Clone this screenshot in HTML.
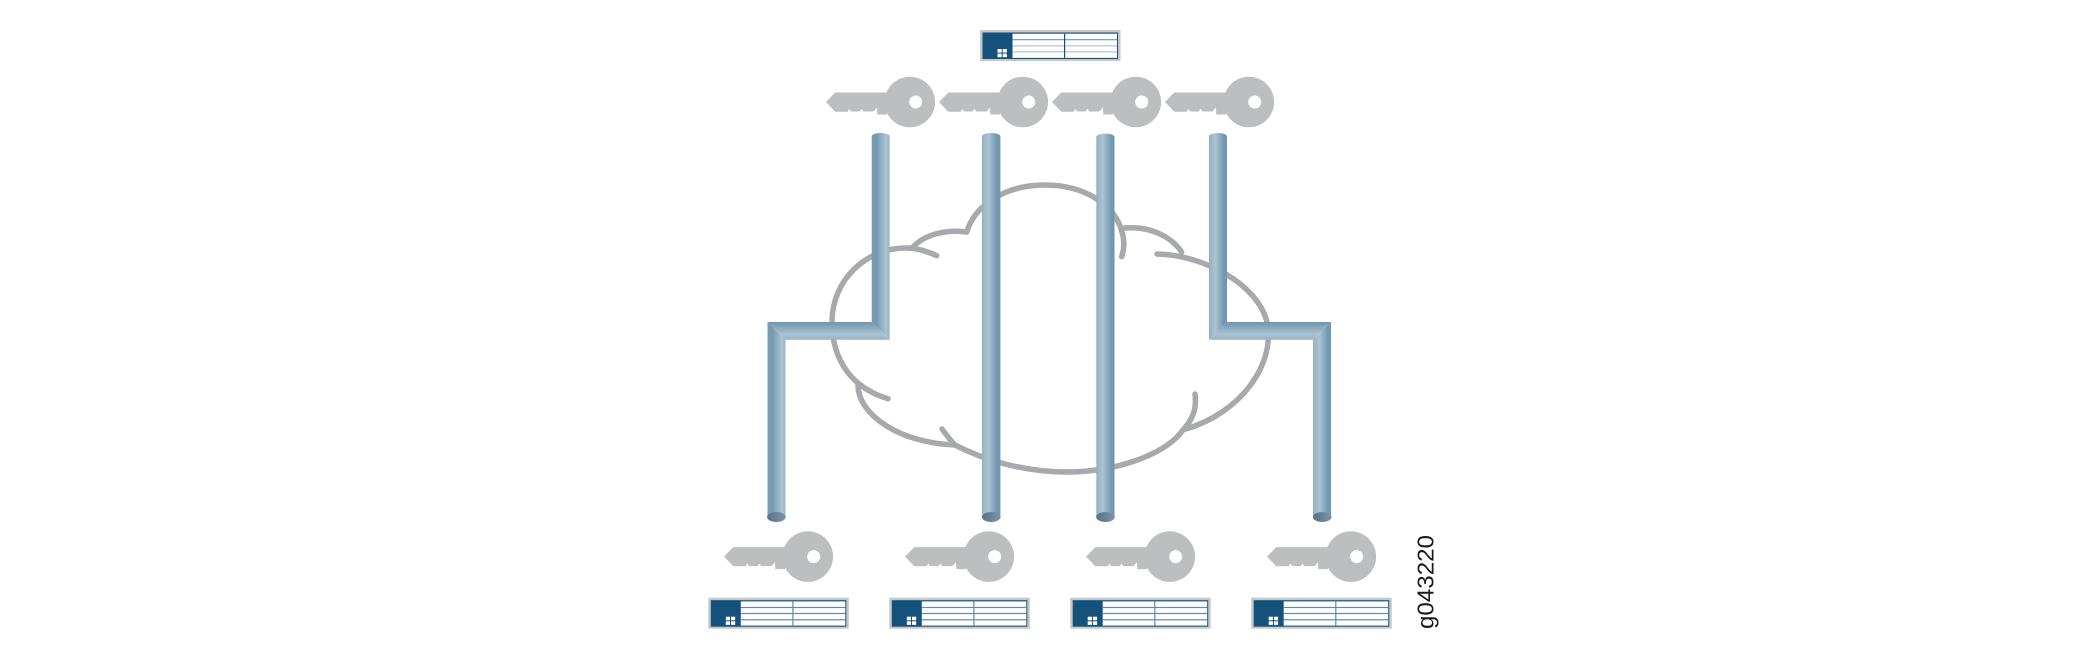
<!DOCTYPE html>
<html>
<head>
<meta charset="utf-8">
<style>
html,body{margin:0;padding:0;background:#fff;}
svg{display:block;}
</style>
</head>
<body>
<svg width="2100" height="660" viewBox="0 0 2100 660" xmlns="http://www.w3.org/2000/svg">
<defs>
<linearGradient id="dl" x1="0" x2="1" y1="0" y2="0"><stop offset="0" stop-color="#7a9cb3"/><stop offset="0.25" stop-color="#7299b2"/><stop offset="0.8" stop-color="#abc2d1"/><stop offset="1" stop-color="#9bb5c7"/></linearGradient>
<linearGradient id="ld" x1="0" x2="1" y1="0" y2="0"><stop offset="0" stop-color="#93b0c3"/><stop offset="0.35" stop-color="#adc3d2"/><stop offset="0.8" stop-color="#7399b2"/><stop offset="1" stop-color="#6f96af"/></linearGradient>
<linearGradient id="hz" x1="0" x2="0" y1="0" y2="1"><stop offset="0" stop-color="#6f96af"/><stop offset="0.7" stop-color="#abc2d1"/><stop offset="1" stop-color="#96b1c4"/></linearGradient>
<linearGradient id="cap" x1="0" x2="1" y1="0" y2="0"><stop offset="0" stop-color="#587189"/><stop offset="1" stop-color="#7d93a8"/></linearGradient>
</defs>

<!-- cloud -->
<g fill="none" stroke="#a7a9ac" stroke-width="5.5" stroke-linecap="round" stroke-linejoin="round">
<path d="M936.7,255.7 C926,251 917,248 906,248 C866,248 832,280 832,322 C832,360 852,388 888,398.7"/>
<path d="M913,247 C924,235 945,229 966.7,232"/>
<path d="M966.7,232 C975,205 1005,185 1045,185 C1085,185 1115,205 1122,232 C1125,242 1124,250 1121.7,256.7"/>
<path d="M1125,228 C1148,226 1170,235 1181.7,252"/>
<path d="M1157,254 C1205,255 1258,285 1267,322 C1276,365 1240,413 1186,429"/>
<path d="M1195,394 C1197,410 1192,420 1183,430 C1165,455 1115,472 1067,472 C1020,472 980,458 955,445 C950,440 945,433 942,429"/>
<path d="M858,385 C858,415 900,443 955,445"/>
</g>

<!-- pipes -->
<path d="M871.7,136.5 A9,3.5 0 0 1 889.7,136.5 V339.7 L871.7,322 Z" fill="url(#dl)"/>
<path d="M767.5,322 H871.7 L889.7,339.7 H785.5 Z" fill="url(#hz)"/>
<path d="M767.5,322 L785.5,339.7 V517 H767.5 Z" fill="url(#dl)"/>
<ellipse cx="776.4" cy="517" rx="9.3" ry="5" fill="url(#cap)"/>

<path d="M982,136.5 A9.2,3.5 0 0 1 1000.4,136.5 V517 H982 Z" fill="url(#ld)"/>
<ellipse cx="991.3" cy="517" rx="9.3" ry="5" fill="url(#cap)"/>

<path d="M1096.3,136.5 A9.2,3.5 0 0 1 1114.5,136.5 V517 H1096.3 Z" fill="url(#ld)"/>
<ellipse cx="1105.5" cy="517" rx="9.3" ry="5" fill="url(#cap)"/>

<path d="M1209,136.5 A9,3.5 0 0 1 1227,136.5 V322 L1209,339.7 Z" fill="url(#ld)"/>
<path d="M1227,322 H1331 L1313,339.7 H1209 Z" fill="url(#hz)"/>
<path d="M1313,339.7 L1331,322 V517 H1313 Z" fill="url(#ld)"/>
<ellipse cx="1322.3" cy="517" rx="9.3" ry="5" fill="url(#cap)"/>

<!-- keys -->
<g fill="#bcbec0">
<path d="M826,102 L835.3,92.5 H887 V114.5 H877.3 L877,107.5 L873.5,111.5 H863.5 L861.5,109 L859.5,111.5 H851 L849.5,109 L847.5,111.7 H835.3 Z"/>
<circle cx="909.8" cy="102" r="25.3"/>
<path d="M939,102 L948.3,92.5 H1000 V114.5 H990.3 L990,107.5 L986.5,111.5 H976.5 L974.5,109 L972.5,111.5 H964 L962.5,109 L960.5,111.7 H948.3 Z"/>
<circle cx="1022.8" cy="102" r="25.3"/>
<path d="M1052,102 L1061.3,92.5 H1113 V114.5 H1103.3 L1103,107.5 L1099.5,111.5 H1089.5 L1087.5,109 L1085.5,111.5 H1077 L1075.5,109 L1073.5,111.7 H1061.3 Z"/>
<circle cx="1135.8" cy="102" r="25.3"/>
<path d="M1165,102 L1174.3,92.5 H1226 V114.5 H1216.3 L1216,107.5 L1212.5,111.5 H1202.5 L1200.5,109 L1198.5,111.5 H1190 L1188.5,109 L1186.5,111.7 H1174.3 Z"/>
<circle cx="1248.8" cy="102" r="25.3"/>

<path d="M724,556.6 L733.3,547.1 H785 V569.1 H775.3 L775,562.1 L771.5,566.1 H761.5 L759.5,563.6 L757.5,566.1 H749 L747.5,563.6 L745.5,566.3 H733.3 Z"/>
<circle cx="807.8" cy="556.6" r="25.3"/>
<path d="M905,556.6 L914.3,547.1 H966 V569.1 H956.3 L956,562.1 L952.5,566.1 H942.5 L940.5,563.6 L938.5,566.1 H930 L928.5,563.6 L926.5,566.3 H914.3 Z"/>
<circle cx="988.8" cy="556.6" r="25.3"/>
<path d="M1086,556.6 L1095.3,547.1 H1147 V569.1 H1137.3 L1137,562.1 L1133.5,566.1 H1123.5 L1121.5,563.6 L1119.5,566.1 H1111 L1109.5,563.6 L1107.5,566.3 H1095.3 Z"/>
<circle cx="1169.8" cy="556.6" r="25.3"/>
<path d="M1267,556.6 L1276.3,547.1 H1328 V569.1 H1318.3 L1318,562.1 L1314.5,566.1 H1304.5 L1302.5,563.6 L1300.5,566.1 H1292 L1290.5,563.6 L1288.5,566.3 H1276.3 Z"/>
<circle cx="1350.8" cy="556.6" r="25.3"/>
</g>
<g fill="#fff">
<circle cx="915.7" cy="102" r="6.5"/><circle cx="1028.7" cy="102" r="6.5"/><circle cx="1141.7" cy="102" r="6.5"/><circle cx="1254.7" cy="102" r="6.5"/>
<circle cx="813.7" cy="556.6" r="6.5"/><circle cx="994.7" cy="556.6" r="6.5"/><circle cx="1175.7" cy="556.6" r="6.5"/><circle cx="1356.7" cy="556.6" r="6.5"/>
</g>

<!-- top table -->
<g transform="translate(980,30)">
<rect width="140.5" height="31" fill="#c5c7c9"/>
<rect x="2.5" y="2.5" width="135.5" height="26.5" fill="#14527c"/>
<rect x="32.5" y="3.7" width="104.5" height="24.2" fill="#fff"/>
<rect x="32.5" y="9" width="104.5" height="1.3" fill="#7ea2ba"/>
<rect x="32.5" y="15" width="104.5" height="1.6" fill="#c0d3de"/>
<rect x="32.5" y="21" width="104.5" height="1.6" fill="#c0d3de"/>
<rect x="84" y="3.7" width="1.2" height="24.2" fill="#14527c"/>
<g fill="#fff"><rect x="17.5" y="19" width="4.2" height="3.6"/><rect x="22.7" y="19" width="4.2" height="3.6"/><rect x="17.5" y="23.6" width="4.2" height="3.6"/><rect x="22.7" y="23.6" width="4.2" height="3.6"/></g>
</g>

<!-- bottom tables -->
<g transform="translate(708.3,597.7)">
<rect width="140.5" height="31" fill="#c5c7c9"/>
<rect x="2.5" y="2.5" width="135.5" height="26.5" fill="#14527c"/>
<rect x="32.5" y="3.7" width="104.5" height="24.2" fill="#fff"/>
<g fill="#5f8aa8"><rect x="32.5" y="9.2" width="104.5" height="1.2"/><rect x="32.5" y="15.2" width="104.5" height="1.2"/><rect x="32.5" y="21.5" width="104.5" height="1.2"/><rect x="84" y="3.7" width="1.2" height="24.2"/></g>
<g fill="#fff"><rect x="17.5" y="19" width="4.2" height="3.6"/><rect x="22.7" y="19" width="4.2" height="3.6"/><rect x="17.5" y="23.6" width="4.2" height="3.6"/><rect x="22.7" y="23.6" width="4.2" height="3.6"/></g>
</g>
<g transform="translate(889.3,597.7)">
<rect width="140.5" height="31" fill="#c5c7c9"/>
<rect x="2.5" y="2.5" width="135.5" height="26.5" fill="#14527c"/>
<rect x="32.5" y="3.7" width="104.5" height="24.2" fill="#fff"/>
<g fill="#5f8aa8"><rect x="32.5" y="9.2" width="104.5" height="1.2"/><rect x="32.5" y="15.2" width="104.5" height="1.2"/><rect x="32.5" y="21.5" width="104.5" height="1.2"/><rect x="84" y="3.7" width="1.2" height="24.2"/></g>
<g fill="#fff"><rect x="17.5" y="19" width="4.2" height="3.6"/><rect x="22.7" y="19" width="4.2" height="3.6"/><rect x="17.5" y="23.6" width="4.2" height="3.6"/><rect x="22.7" y="23.6" width="4.2" height="3.6"/></g>
</g>
<g transform="translate(1070.2,597.7)">
<rect width="140.5" height="31" fill="#c5c7c9"/>
<rect x="2.5" y="2.5" width="135.5" height="26.5" fill="#14527c"/>
<rect x="32.5" y="3.7" width="104.5" height="24.2" fill="#fff"/>
<g fill="#5f8aa8"><rect x="32.5" y="9.2" width="104.5" height="1.2"/><rect x="32.5" y="15.2" width="104.5" height="1.2"/><rect x="32.5" y="21.5" width="104.5" height="1.2"/><rect x="84" y="3.7" width="1.2" height="24.2"/></g>
<g fill="#fff"><rect x="17.5" y="19" width="4.2" height="3.6"/><rect x="22.7" y="19" width="4.2" height="3.6"/><rect x="17.5" y="23.6" width="4.2" height="3.6"/><rect x="22.7" y="23.6" width="4.2" height="3.6"/></g>
</g>
<g transform="translate(1251.2,597.7)">
<rect width="140.5" height="31" fill="#c5c7c9"/>
<rect x="2.5" y="2.5" width="135.5" height="26.5" fill="#14527c"/>
<rect x="32.5" y="3.7" width="104.5" height="24.2" fill="#fff"/>
<g fill="#5f8aa8"><rect x="32.5" y="9.2" width="104.5" height="1.2"/><rect x="32.5" y="15.2" width="104.5" height="1.2"/><rect x="32.5" y="21.5" width="104.5" height="1.2"/><rect x="84" y="3.7" width="1.2" height="24.2"/></g>
<g fill="#fff"><rect x="17.5" y="19" width="4.2" height="3.6"/><rect x="22.7" y="19" width="4.2" height="3.6"/><rect x="17.5" y="23.6" width="4.2" height="3.6"/><rect x="22.7" y="23.6" width="4.2" height="3.6"/></g>
</g>

<text transform="translate(1433.3,629) rotate(-90)" font-family="'Liberation Sans',sans-serif" font-size="23.5" fill="#1a1a1a" textLength="94" lengthAdjust="spacingAndGlyphs">g043220</text>
</svg>
</body>
</html>
